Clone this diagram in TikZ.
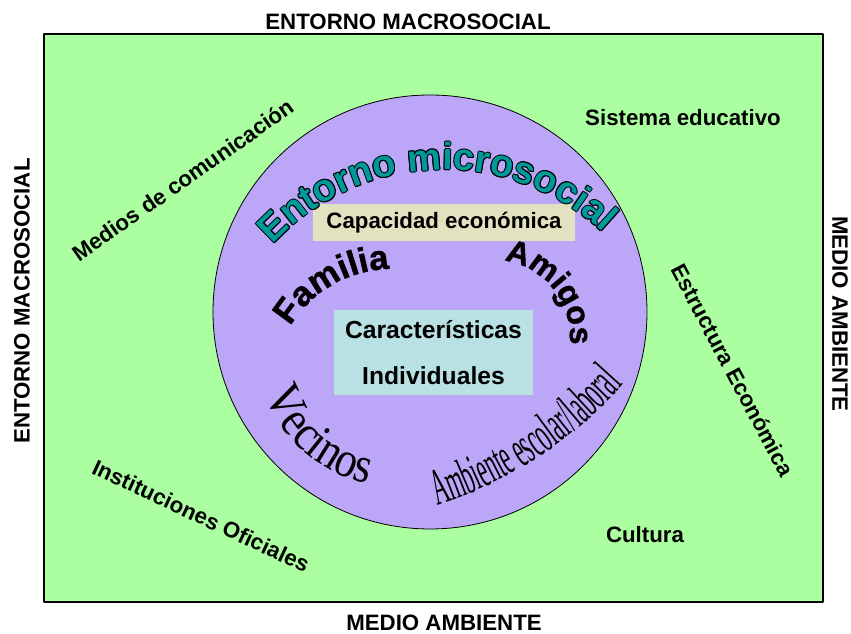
\documentclass[tikz,border=0pt]{standalone}
\usepackage{fontspec}
\setmainfont{Liberation Sans}
\newfontfamily\gruesafont{Liberation Sans}[BoldFeatures={FakeBold=1.4}]
\newfontfamily\vecinosfont{Liberation Serif}[FakeStretch=0.86]
\newfontfamily\ambientefont{Liberation Serif}[FakeStretch=0.43]
\usetikzlibrary{decorations.text}
\definecolor{fondoverde}{RGB}{171,255,160}
\definecolor{circulolila}{RGB}{187,166,247}
\definecolor{tealtexto}{RGB}{0,153,153}
\definecolor{cajacrema}{RGB}{226,226,192}
\definecolor{cajaceleste}{RGB}{185,225,228}

\begin{document}
\begin{tikzpicture}[line cap=round,line join=round,x=0.75pt,y=0.75pt,
	etiqueta/.style={font=\fontsize{16.7}{20}\selectfont\bfseries,inner sep=0pt},
	caja/.style={font=\fontsize{18.5}{34.5}\selectfont\bfseries,align=center,inner sep=0pt}]
	\useasboundingbox (0,0) rectangle (851,634);
	\draw [line width=1.2pt,fill=fondoverde] (44,600) rectangle (823,32);
	\draw [line width=0.6pt,fill=circulolila] (430,322) circle (217);
	% titulos del marco
	\node [etiqueta] (norte) at (408,612) {ENTORNO MACROSOCIAL};
	\node [etiqueta] (sur) at (444,11) {MEDIO AMBIENTE};
	\node [etiqueta,rotate=90] (oeste) at (22,333) {ENTORNO MACROSOCIAL};
	\node [etiqueta,rotate=-90] (este) at (840,320) {MEDIO AMBIENTE};
	% entorno macrosocial
	\node [etiqueta,rotate=35] (medios) at (183,454) {Medios de comunicación};
	\node [etiqueta] (sistema) at (683,516) {Sistema educativo};
	\node [etiqueta,rotate=-62] (estructura) at (733,264) {Estructura Económica};
	\node [etiqueta,rotate=-25] (instituciones) at (201,118) {Instituciones Oficiales};
	\node [etiqueta] (cultura) at (645,99) {Cultura};
	% cajas del centro
	\node [etiqueta,fill=cajacrema,minimum width=196.5pt,minimum height=27.75pt] (capacidad) at (444,411.5) {Capacidad económica\hspace{6pt}};
	\node [caja,fill=cajaceleste,minimum width=149.25pt,minimum height=63.75pt] (individuo) at (433.5,281.5) {Características\\Individuales};
	% entorno microsocial (contorno negro + relleno)
	\foreach \ang in {0,45,...,315}
		\path [shift={(\ang:1)},decorate,decoration={text along path,text align=center,
			text={|\fontsize{28.5}{30}\selectfont\bfseries\color{black}|Entorno microsocial}}]
			(444,231) ++(142:233) arc [start angle=142,end angle=42,radius=233];
	\path [decorate,decoration={text along path,text align=center,
		text={|\fontsize{28.5}{30}\selectfont\bfseries\color{tealtexto}|Entorno microsocial}}]
		(444,231) ++(142:233) arc [start angle=142,end angle=42,radius=233];
	% textos curvos
	\path [decorate,decoration={text along path,text align=center,
		text={|\gruesafont\fontsize{26}{30}\selectfont\bfseries|Familia}}]
		(392,246) ++(170:119) arc [start angle=170,end angle=70,radius=119];
	\path [decorate,decoration={text along path,text align=center,
		text={|\gruesafont\fontsize{24}{28}\selectfont\bfseries|Amigos}}]
		(493,297) ++(100:77) arc [start angle=100,end angle=-24,radius=77];
	\path [decorate,decoration={text along path,text align=center,
		text={|\vecinosfont\fontsize{38}{40}\selectfont|Vecinos}}]
		(394,284) ++(189:136) arc [start angle=189,end angle=269,radius=136];
	\path [decorate,decoration={text along path,text align=center,
		text={|\ambientefont\fontsize{39}{42}\selectfont|Ambiente escolar/laboral}}]
		(307,533) ++(-80:425) arc [start angle=-80,end angle=-34,radius=425];
\end{tikzpicture}
\end{document}
